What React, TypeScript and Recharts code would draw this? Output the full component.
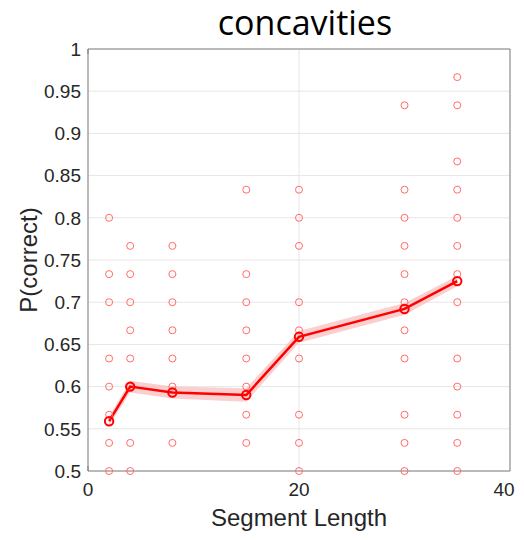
import {
  Area,
  CartesianGrid,
  ComposedChart,
  Line,
  Scatter,
  XAxis,
  YAxis,
} from "recharts";

const SEGMENT_LENGTHS = [2, 4, 8, 15, 20, 30, 35];

// per-subject P(correct) at each segment length
const SUBJECTS_2 = [0.8, 0.7333, 0.7, 0.6333, 0.6, 0.5667, 0.5333, 0.5];
const SUBJECTS_4 = [0.7667, 0.7333, 0.7, 0.6667, 0.6333, 0.6, 0.5333, 0.5];
const SUBJECTS_8 = [0.7667, 0.7333, 0.7, 0.6667, 0.6333, 0.6, 0.5333];
const SUBJECTS_15 = [0.8333, 0.7333, 0.7, 0.6667, 0.6333, 0.6, 0.5667, 0.5333];
const SUBJECTS_20 = [0.8333, 0.8, 0.7667, 0.7, 0.6667, 0.6333, 0.5667, 0.5333, 0.5];
const SUBJECTS_30 = [0.9333, 0.8333, 0.8, 0.7667, 0.7333, 0.7, 0.6667, 0.6333, 0.5667, 0.5333, 0.5];
const SUBJECTS_35 = [0.9667, 0.9333, 0.8667, 0.8333, 0.8, 0.7667, 0.7333, 0.7, 0.6333, 0.6, 0.5667, 0.5333, 0.5];

const MEAN = [0.559, 0.6, 0.593, 0.59, 0.659, 0.692, 0.725];
const SEM = [0.005, 0.007, 0.007, 0.008, 0.007, 0.007, 0.006];

const Y_TICKS = [0.5, 0.55, 0.6, 0.65, 0.7, 0.75, 0.8, 0.85, 0.9, 0.95, 1];
const X_TICKS = [0, 20, 40];

const SUBJECTS = [SUBJECTS_2, SUBJECTS_4, SUBJECTS_8, SUBJECTS_15, SUBJECTS_20, SUBJECTS_30, SUBJECTS_35];

const scatterData = SEGMENT_LENGTHS.flatMap((x, i) => SUBJECTS[i].map((y) => ({ x, y })));
const meanData = SEGMENT_LENGTHS.map((x, i) => ({
  x,
  mean: MEAN[i],
  band: [MEAN[i] - SEM[i], MEAN[i] + SEM[i]],
}));

const FONT = "'Liberation Sans', Arial, Helvetica, sans-serif";
const TEXT = "#262626";
const AXIS = "#808080";
const GRID = "#e6e6e6";

const tickStyle = { fontSize: 19, fill: TEXT, fontFamily: FONT };

function OpenCircle(props: any) {
  const { cx, cy } = props;
  return <circle cx={cx} cy={cy} r={3.5} fill="none" stroke="#ff6b6b" strokeWidth={1} />;
}

// last x tick nudged left so it stays inside the visible page
function XTick(props: any) {
  const { x, y, payload } = props;
  const last = payload.value === X_TICKS[X_TICKS.length - 1];
  return (
    <text
      x={last ? x - 6 : x}
      y={y}
      dy="0.71em"
      textAnchor="middle"
      fontSize={19}
      fontFamily={FONT}
      fill={TEXT}
    >
      {payload.value}
    </text>
  );
}

export default function App() {
  return (
    <div style={{ position: "relative", width: 508, height: 524 }}>
      <div
        style={{
          position: "absolute",
          left: 147,
          top: -3,
          width: 300,
          textAlign: "center",
          fontFamily: "'Open Sans', sans-serif",
          fontSize: 34,
          lineHeight: 1,
          color: "#000",
        }}
      >
        concavities
      </div>
      <ComposedChart
        width={508}
        height={524}
        data={meanData}
        margin={{ top: 41, right: 6, bottom: 11, left: 0 }}
      >
        <CartesianGrid stroke={GRID} horizontalValues={Y_TICKS} verticalValues={X_TICKS} />
        <XAxis
          dataKey="x"
          type="number"
          domain={[0, 40]}
          ticks={X_TICKS}
          height={50}
          tickLine={false}
          tickMargin={6}
          stroke={AXIS}
          tick={<XTick />}
          interval={0}
          label={{
            content: () => (
              <text
                x={291}
                y={509}
                textAnchor="middle"
                dominantBaseline="central"
                fontSize={24}
                fontFamily={FONT}
                fill={TEXT}
              >
                Segment Length
              </text>
            ),
          }}
        />
        <YAxis
          type="number"
          domain={[0.5, 1]}
          ticks={Y_TICKS}
          width={80}
          tickLine={false}
          tickMargin={1}
          stroke={AXIS}
          tick={tickStyle}
          interval={0}
          label={{
            content: () => (
              <text
                transform="translate(20.5, 252) rotate(-90)"
                textAnchor="middle"
                dominantBaseline="central"
                fontSize={24}
                fontFamily={FONT}
                fill={TEXT}
              >
                P(correct)
              </text>
            ),
          }}
        />
        {/* box + inward tick marks */}
        <XAxis xAxisId="top" orientation="top" mirror type="number" domain={[0, 40]} ticks={X_TICKS}
          tickSize={5} tickFormatter={() => ""} stroke={AXIS} />
        <XAxis xAxisId="bottom" orientation="bottom" mirror type="number" domain={[0, 40]} ticks={X_TICKS}
          tickSize={5} tickFormatter={() => ""} stroke={AXIS} axisLine={false} />
        <YAxis yAxisId="right" orientation="right" mirror type="number" domain={[0.5, 1]} ticks={Y_TICKS}
          tickSize={5} tickFormatter={() => ""} stroke={AXIS} />
        <YAxis yAxisId="left" orientation="left" mirror type="number" domain={[0.5, 1]} ticks={Y_TICKS}
          tickSize={5} tickFormatter={() => ""} stroke={AXIS} axisLine={false} />

        <Area
          dataKey="band"
          stroke="none"
          fill="#f7b5b5"
          fillOpacity={0.65}
          isAnimationActive={false}
        />
        <Scatter data={scatterData} dataKey="y" shape={OpenCircle} isAnimationActive={false} />
        <Line
          dataKey="mean"
          stroke="#ff0000"
          strokeWidth={2.5}
          dot={{ r: 4.2, stroke: "#ff0000", strokeWidth: 2, fill: "none" }}
          activeDot={false}
          isAnimationActive={false}
        />
      </ComposedChart>
    </div>
  );
}
